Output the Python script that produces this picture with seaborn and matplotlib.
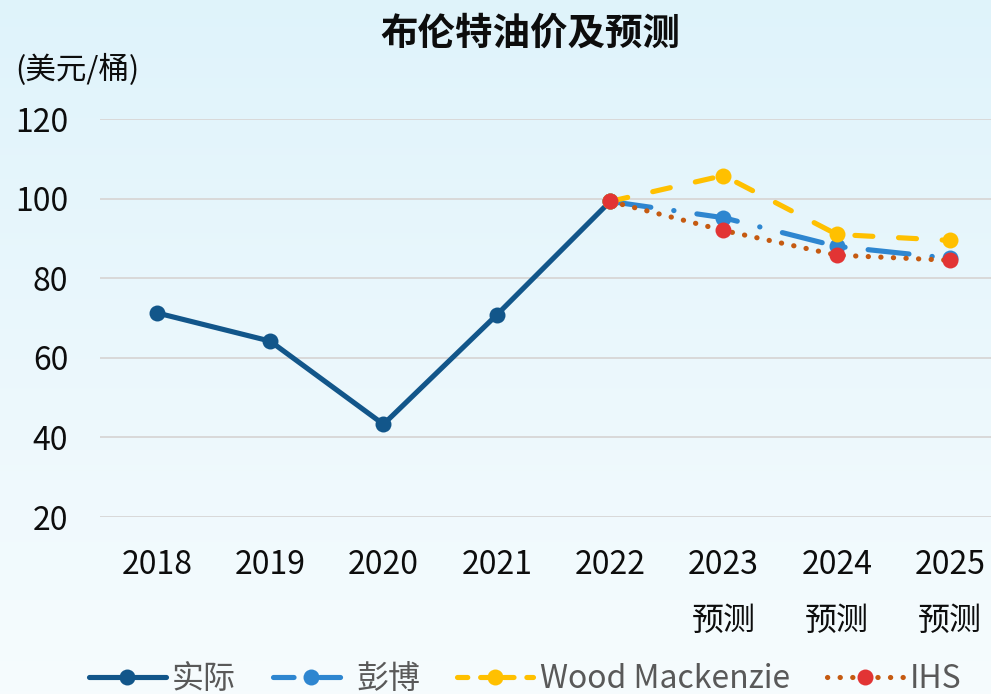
import numpy as np
import pandas as pd
import seaborn as sns
import matplotlib.pyplot as plt
from matplotlib.lines import Line2D

years = ['2018', '2019', '2020', '2021', '2022', '2023\n预测', '2024\n预测', '2025\n预测']
actual = [71.3, 64.2, 43.3, 70.8, 99.3]
bloomberg = [99.3, 95.2, 88.0, 85.0]
woodmac = [99.3, 105.8, 91.0, 89.5]
ihs = [99.3, 92.0, 85.8, 84.5]
yticks = [20, 40, 60, 80, 100, 120]

sns.set_theme(style='white')
plt.rcParams['font.family'] = ['Noto Sans CJK SC', 'DejaVu Sans']

fig = plt.figure(figsize=(9.91, 6.94), dpi=100)

# light blue gradient background
bg = fig.add_axes([0, 0, 1, 1], zorder=-10)
grad = np.linspace(0, 1, 256).reshape(-1, 1)
top = np.array([0.875, 0.953, 0.984])
bot = np.array([0.965, 0.988, 0.996])
img = top[None, None, :] * (1 - grad[:, :, None]) + bot[None, None, :] * grad[:, :, None]
bg.imshow(img, aspect='auto', extent=[0, 1, 0, 1])
bg.axis('off')

ax = fig.add_axes([0.101, 0.255, 0.915, 0.5735])
ax.patch.set_alpha(0)

pos = list(range(len(years)))
df_act = pd.DataFrame({'x': pos[:5], 'y': actual})
df_bb = pd.DataFrame({'x': pos[4:], 'y': bloomberg})
df_wm = pd.DataFrame({'x': pos[4:], 'y': woodmac})
df_ihs = pd.DataFrame({'x': pos[4:], 'y': ihs})

c_act, c_bb, c_wm, c_ihs, c_red = '#12568a', '#2e86d0', '#ffc000', '#c55a11', '#e23434'
lw, ms = 3.7, 11.5
ls_bb = (0, (8, 4.5, 0.05, 4.5))
ls_wm = (0, (3.5, 5))
ls_ihs = (0, (0.05, 2.4))

sns.lineplot(data=df_act, x='x', y='y', ax=ax, color=c_act, lw=lw, marker='o', ms=ms,
             markeredgewidth=0, zorder=3, solid_capstyle='round')
sns.lineplot(data=df_bb, x='x', y='y', ax=ax, color=c_bb, lw=lw, marker='o', ms=ms,
             markeredgewidth=0, linestyle=ls_bb, dash_capstyle='round', zorder=4)
sns.lineplot(data=df_wm, x='x', y='y', ax=ax, color=c_wm, lw=lw, marker='o', ms=ms,
             markeredgewidth=0, linestyle=ls_wm, dash_capstyle='round', zorder=5)
sns.lineplot(data=df_ihs, x='x', y='y', ax=ax, color=c_ihs, lw=lw, marker='o', ms=ms,
             markeredgewidth=0, markerfacecolor=c_red, linestyle=ls_ihs,
             dash_capstyle='round', zorder=6)

ax.set_xlim(-0.5, 7.5)
ax.set_ylim(20, 120)
ax.set_yticks(yticks)
ax.set_xticks(pos)
ax.set_xticklabels(years, linespacing=1.95, va='top')
ax.tick_params(axis='both', length=0, labelsize=23, colors='#0d0d0d')
ax.tick_params(axis='y', pad=23)
ax.tick_params(axis='x', pad=23)
ax.grid(axis='y', color='#d9d9d9', lw=1.4)
ax.set_axisbelow(True)
for s in ax.spines.values():
    s.set_visible(False)
ax.set_xlabel('')
ax.set_ylabel('')

fig.text(0.535, 0.952, '布伦特油价及预测', ha='center', va='center', fontsize=27,
         fontweight='bold', color='#0d0d0d')
fig.text(0.015, 0.899, '(美元/桶)', ha='left', va='center', fontsize=22, color='#0d0d0d')

handles = [
    Line2D([], [], color=c_act, lw=lw, marker='o', ms=ms, markeredgewidth=0),
    Line2D([], [], color=c_bb, lw=lw, marker='o', ms=ms, markeredgewidth=0,
           linestyle=(0, (4, 2.5, 0.05, 2.5)), dash_capstyle='round'),
    Line2D([], [], color=c_wm, lw=lw, marker='o', ms=ms, markeredgewidth=0,
           linestyle=(0, (2, 2.5)), dash_capstyle='round'),
    Line2D([], [], color=c_ihs, lw=lw, marker='o', ms=ms, markeredgewidth=0,
           markerfacecolor=c_red, linestyle=ls_ihs, dash_capstyle='round'),
]
labels = ['实际', '彭博', 'Wood Mackenzie', 'IHS']
leg = fig.legend(handles, labels, loc='center', bbox_to_anchor=(0.53, 0.022), ncol=4,
                 frameon=False, fontsize=23, handlelength=2.4, handletextpad=0.2,
                 columnspacing=1.15, labelcolor='#595959')

fig.savefig('out.png', dpi=100)
